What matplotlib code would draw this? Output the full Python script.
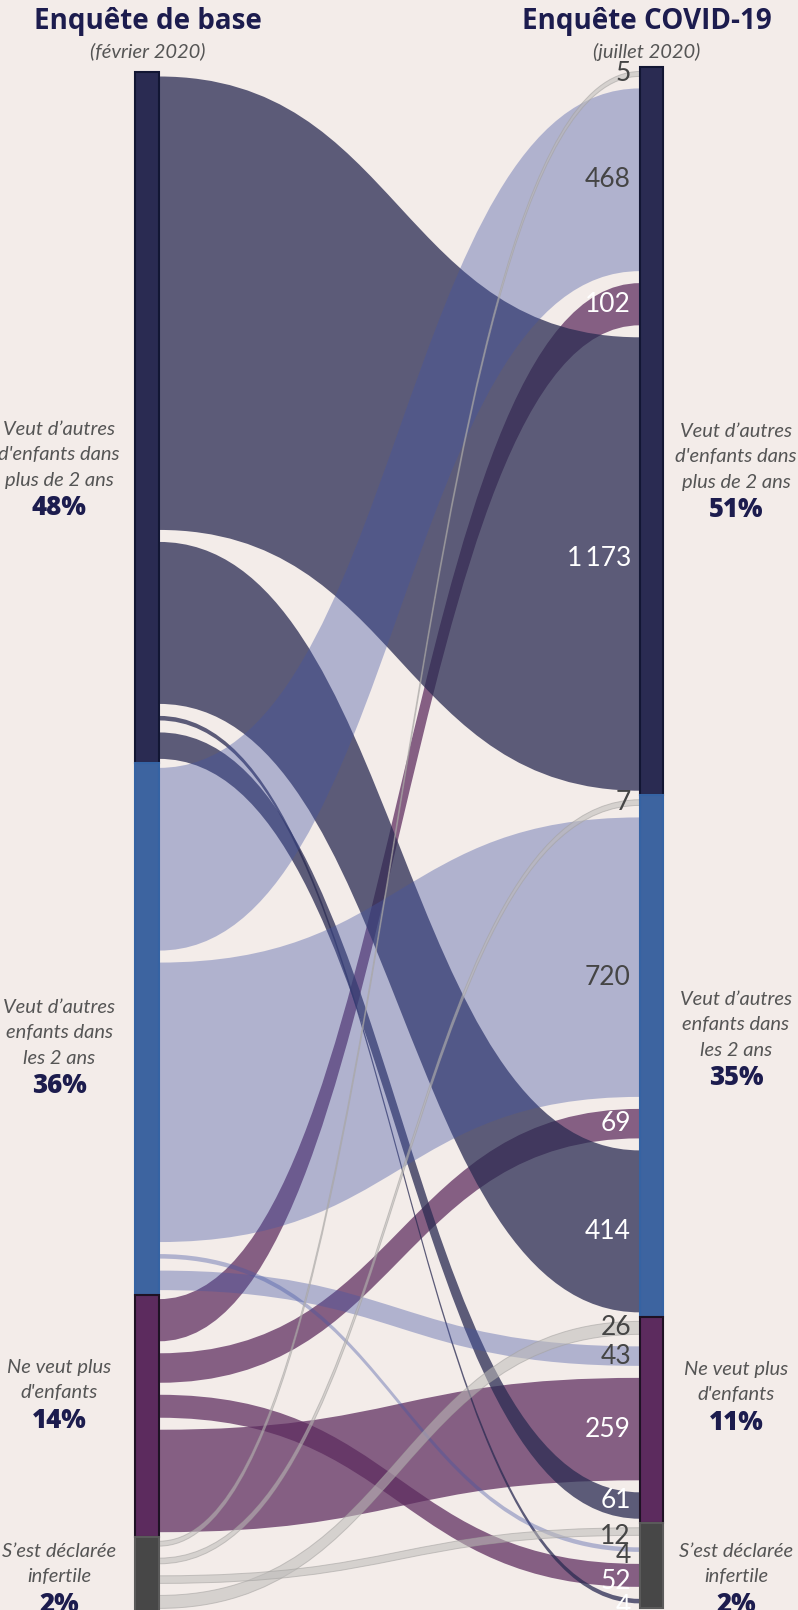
import numpy as np
import matplotlib
matplotlib.use("Agg")
import matplotlib.pyplot as plt
from matplotlib.path import Path
from matplotlib.patches import PathPatch, Rectangle

# ---------------- data ----------------
left_title = "Enquête de base"
left_sub = "(février 2020)"
right_title = "Enquête COVID-19"
right_sub = "(juillet 2020)"

left_labels = ["Veut d’autres\nd'enfants dans\nplus de 2 ans",
               "Veut d’autres\nenfants dans\nles 2 ans",
               "Ne veut plus\nd'enfants",
               "S’est déclarée\ninfertile"]
right_labels = left_labels
left_pct = ["48%", "36%", "14%", "2%"]
right_pct = ["51%", "35%", "11%", "2%"]

# flows[i][j] : from baseline category i to COVID category j
flow_from_A = [1173, 414, 61, 4]
flow_from_B = [468, 720, 43, 4]
flow_from_C = [102, 69, 259, 52]
flow_from_D = [5, 7, 26, 12]
flows = [flow_from_A, flow_from_B, flow_from_C, flow_from_D]

# stacking order of links inside nodes
left_order = [0, 1, 3, 2]    # targets order within a source node
right_order = [3, 1, 2, 0]   # sources order within a target node

# ---------------- style ----------------
BG = "#f3ece9"
node_colors = ["#2a2b52", "#3d64a0", "#5c2b5e", "#474747"]
node_edges = ["#121633", "#3563a3", "#1e1224", "#5a5a5a"]
link_colors = ["#2a2b52", "#4455a4", "#5c2b5e", "#bdbbb9"]
link_alpha = [0.75, 0.38, 0.73, 0.55]
draw_order = [2, 0, 1, 3]
TXT_GREY = "#555555"
NAVY = "#1c1c4e"

K = 0.384      # px per respondent
EXTRA = 3.0    # extra px per link
GAP = 12.0
PAD = 4.5
LEFT_TOP, RIGHT_TOP = 72.0, 67.0
XL0, XL1 = 135.0, 159.0
XR0, XR1 = 640.0, 663.0

W, H = 798, 1610
fig = plt.figure(figsize=(W / 100, H / 100), dpi=100, facecolor=BG)
ax = fig.add_axes([0, 0, 1, 1])
ax.set_xlim(0, W)
ax.set_ylim(H, 0)
ax.axis("off")
ax.set_facecolor(BG)

n = len(flows)
width = [[K * flows[i][j] + EXTRA for j in range(n)] for i in range(n)]

left_y = {}
left_nodes = []
y = LEFT_TOP
for i in range(n):
    top = y
    y += PAD
    for j in left_order:
        left_y[(i, j)] = (y, y + width[i][j])
        y += width[i][j] + GAP
    y += PAD - GAP
    left_nodes.append((top, y))

right_y = {}
right_nodes = []
y = RIGHT_TOP
for j in range(n):
    top = y
    y += PAD
    for i in right_order:
        right_y[(i, j)] = (y, y + width[i][j])
        y += width[i][j] + GAP
    y += PAD - GAP
    right_nodes.append((top, y))


def band(x0, x1, a0, a1, b0, b1):
    xm = (x0 + x1) / 2
    verts = [(x0, a0), (xm, a0), (xm, b0), (x1, b0),
             (x1, b1), (xm, b1), (xm, a1), (x0, a1), (x0, a0)]
    codes = [Path.MOVETO, Path.CURVE4, Path.CURVE4, Path.CURVE4,
             Path.LINETO, Path.CURVE4, Path.CURVE4, Path.CURVE4, Path.CLOSEPOLY]
    return Path(verts, codes)


for i in draw_order:
    for j in range(n):
        a0, a1 = left_y[(i, j)]
        b0, b1 = right_y[(i, j)]
        p = band(XL1, XR0, a0, a1, b0, b1)
        z = 2 + draw_order.index(i)
        if i == 3:
            ax.add_patch(PathPatch(p, facecolor=link_colors[i], alpha=link_alpha[i],
                                   edgecolor="#a3a19f", lw=0.7, zorder=z))
        else:
            ax.add_patch(PathPatch(p, facecolor=link_colors[i], alpha=link_alpha[i],
                                   edgecolor="none", lw=0, zorder=z))

# nodes
for i, (t, b) in enumerate(left_nodes):
    ax.add_patch(Rectangle((XL0, t), XL1 - XL0, b - t, facecolor=node_colors[i],
                           edgecolor=node_edges[i], lw=1.5, zorder=10))
for j, (t, b) in enumerate(right_nodes):
    ax.add_patch(Rectangle((XR0, t), XR1 - XR0, b - t, facecolor=node_colors[j],
                           edgecolor=node_edges[j], lw=1.5, zorder=10))

# value labels at right end of links
dark_src = {0, 2}
nudge = {(1, 1): 20, (0, 0): -6, (0, 2): -5, (3, 3): 5, (1, 3): 6, (2, 3): 6, (0, 3): 5}
for (i, j), (b0, b1) in right_y.items():
    v = flows[i][j]
    txt = f"{v:,}".replace(",", "\u2009")
    col = "white" if i in dark_src else "#454545"
    ax.text(631, (b0 + b1) / 2 + nudge.get((i, j), 0), txt, ha="right", va="center",
            fontsize=19, color=col, family=["Lato", "DejaVu Sans"], zorder=20)

# titles
ax.text(148, 22, left_title, ha="center", va="center", fontsize=20, fontweight="bold",
        color=NAVY, family="Open Sans")
ax.text(148, 51, left_sub, ha="center", va="center", fontsize=14.5, style="italic",
        color=TXT_GREY, family="Lato")
ax.text(647, 22, right_title, ha="center", va="center", fontsize=20, fontweight="bold",
        color=NAVY, family="Open Sans")
ax.text(647, 52, right_sub, ha="center", va="center", fontsize=14.5, style="italic",
        color=TXT_GREY, family="Lato")

# category labels
left_label_y = [429, 1007, 1367, 1551]
right_label_y = [431, 999, 1369, 1551]
LINE = 25.8
for idx in range(n):
    for xs, ys, labs, pcts in ((59, left_label_y, left_labels, left_pct),
                               (736, right_label_y, right_labels, right_pct)):
        lines = labs[idx].split("\n")
        y0 = ys[idx]
        for li, ln in enumerate(lines):
            ax.text(xs, y0 + li * LINE, ln, ha="center", va="center", fontsize=14.5,
                    style="italic", color=TXT_GREY, family="Lato")
        ax.text(xs, y0 + len(lines) * LINE + 2, pcts[idx], ha="center", va="center",
                fontsize=18.5, fontweight="heavy", color=NAVY, family="Open Sans")

fig.savefig("out.png", dpi=100, facecolor=BG)
